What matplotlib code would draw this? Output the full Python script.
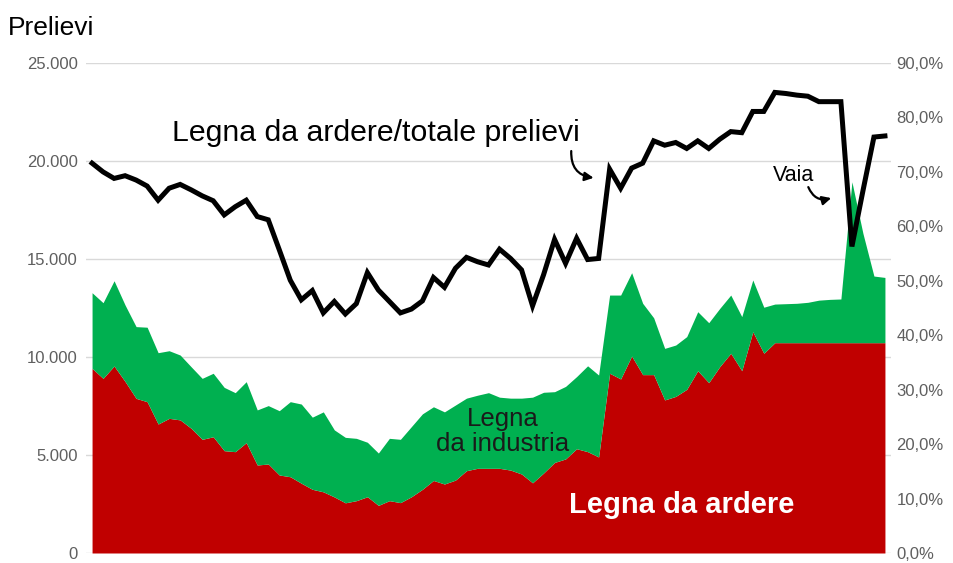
import numpy as np
import matplotlib
matplotlib.use("Agg")
import matplotlib.pyplot as plt
from matplotlib.ticker import FuncFormatter

plt.rcParams['font.family'] = ['Liberation Sans', 'DejaVu Sans']

# prelievi - valori
ardere = [9420, 8910, 9540, 8750, 7890, 7720, 6580, 6870, 6790, 6360,
          5800, 5930, 5220, 5170, 5630, 4490, 4540, 3980, 3890, 3560,
          3250, 3120, 2860, 2560, 2670, 2870, 2430, 2670, 2570, 2870,
          3250, 3700, 3520, 3720, 4200, 4320, 4320, 4320, 4230, 4030,
          3580, 4080, 4620, 4800, 5320, 5170, 4900, 9170, 8880, 10050,
          9100, 9100, 7810, 7990, 8350, 9300, 8690, 9510, 10190, 9300,
          11290, 10190, 10730, 10730, 10730, 10730, 10730, 10730, 10730, 10730,
          10730, 10730, 10730]
totale = [13280, 12770, 13890, 12650, 11550, 11520, 10220, 10320, 10100, 9500,
          8910, 9170, 8450, 8180, 8740, 7300, 7520, 7260, 7720, 7600,
          6930, 7200, 6280, 5900, 5850, 5650, 5100, 5850, 5800, 6450,
          7100, 7460, 7200, 7550, 7900, 8050, 8180, 7950, 7900, 7900,
          7950, 8200, 8230, 8500, 9000, 9550, 9080, 13160, 13160, 14300,
          12740, 12000, 10440, 10610, 11040, 12310, 11750, 12480, 13160, 12060,
          13930, 12540, 12700, 12720, 12740, 12790, 12900, 12940, 12960, 18940,
          16310, 14130, 14060]
quota = [71.6, 70.0, 68.8, 69.3, 68.5, 67.4, 64.8, 67.0, 67.7, 66.7,
         65.6, 64.7, 62.1, 63.6, 64.8, 61.8, 61.2, 55.7, 50.1, 46.5,
         48.2, 44.1, 46.2, 43.9, 45.8, 51.5, 48.3, 46.2, 44.1, 44.8,
         46.3, 50.6, 48.8, 52.3, 54.3, 53.5, 52.9, 55.8, 54.1, 52.0,
         45.4, 51.1, 57.6, 53.2, 57.8, 53.9, 54.1, 70.5, 67.0, 70.7,
         71.6, 75.7, 74.9, 75.4, 74.3, 75.7, 74.3, 76.0, 77.4, 77.2,
         81.1, 81.1, 84.6, 84.4, 84.1, 83.9, 82.9, 82.9, 82.9, 56.3,
         66.5, 76.4, 76.6]

x = np.arange(len(ardere))
ardere = np.array(ardere)
totale = np.array(totale)
quota = np.array(quota) / 100

ROSSO = '#C00000'
VERDE = '#00B050'
GRIGIO = '#5f5f5f'

fig = plt.figure(figsize=(9.54, 5.63), dpi=100)
ax = fig.add_axes([86/954, 1-553/563, 805/954, 490/563])

ax.fill_between(x, 0, ardere, color=ROSSO, lw=0)
ax.fill_between(x, ardere, totale, color=VERDE, lw=0)

ax.set_xlim(-0.55, len(x) - 0.45)
ax.set_ylim(0, 25000)
ax.set_yticks(range(0, 25001, 5000))
ax.yaxis.set_major_formatter(FuncFormatter(lambda v, p: f"{int(v):,}".replace(",", ".")))
ax.set_xticks([])
ax.grid(axis='y', color='#d9d9d9', lw=1)
ax.set_axisbelow(True)
ax.tick_params(axis='y', length=0, labelsize=12, labelcolor=GRIGIO, pad=6)
for s in ax.spines.values():
    s.set_visible(False)

ax2 = ax.twinx()
ax2.plot(x, quota, color='black', lw=3.6, solid_joinstyle='miter')
ax2.set_ylim(0, 0.9)
ax2.set_yticks(np.arange(0, 0.91, 0.1))
ax2.yaxis.set_major_formatter(FuncFormatter(lambda v, p: f"{v*100:.1f}%".replace(".", ",")))
ax2.tick_params(axis='y', length=0, labelsize=12, labelcolor=GRIGIO, pad=4)
for s in ax2.spines.values():
    s.set_visible(False)

# etichette e frecce
ax2.text(0.107, 0.857, "Legna da ardere/totale prelievi", transform=ax2.transAxes,
         fontsize=21.8, ha='left', va='center')
ax2.annotate("", xy=(0.634, 0.765), xytext=(0.603, 0.826),
             xycoords='axes fraction', textcoords='axes fraction',
             arrowprops=dict(arrowstyle='-|>', color='black', lw=1.6,
                             mutation_scale=13, connectionstyle='arc3,rad=0.5'))
ax2.text(0.853, 0.771, "Vaia", transform=ax2.transAxes, fontsize=15.5,
         ha='left', va='center')
ax2.annotate("", xy=(0.929, 0.726), xytext=(0.896, 0.752),
             xycoords='axes fraction', textcoords='axes fraction',
             arrowprops=dict(arrowstyle='-|>', color='black', lw=1.6,
                             mutation_scale=13, connectionstyle='arc3,rad=0.5'))
ax2.text(0.518, 0.247, "Legna\nda industria", transform=ax2.transAxes,
         fontsize=18.5, ha='center', va='center', color='#1a1a1a', linespacing=1.05)
ax2.text(0.740, 0.098, "Legna da ardere", transform=ax2.transAxes,
         fontsize=21, fontweight='bold', ha='center', va='center', color='white')

fig.text(8/954, 1-28/563, "Prelievi", fontsize=19, ha='left', va='center')

fig.savefig("out.png", dpi=100)
